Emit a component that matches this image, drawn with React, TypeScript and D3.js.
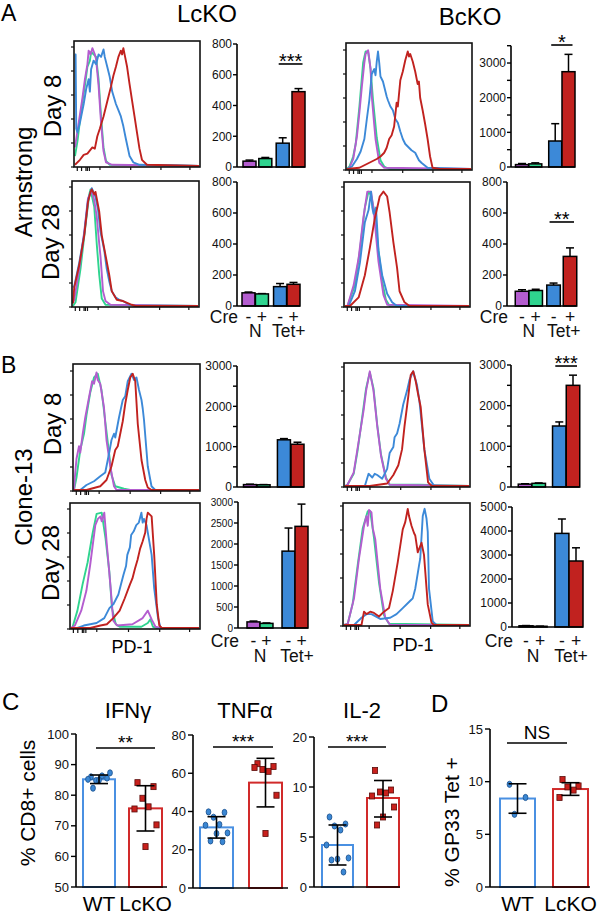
import React from "react";
import * as d3 from "d3";

type Pt = [number, number];
type Curve = Pt[];

const FONT = "Liberation Sans, Arial, Helvetica, sans-serif";
const PURPLE = "#b45dcf";
const GREEN = "#2fd48f";
const BLUE = "#3c89d8";
const RED = "#c1221f";
const CURVE_COLORS = [PURPLE, GREEN, BLUE, RED];
const DRAW_ORDER = [1, 0, 2, 3];

// ---------- Histogram curves: [position along PD-1 axis (0-1), fraction of max] ----------
// curves ordered [purple (N Cre-), green (N Cre+), blue (Tet+ Cre-), red (Tet+ Cre+)]
const histArmLc8: Curve[] = [
  [[0,0.15],[0.03,0.35],[0.06,0.55],[0.08,0.7],[0.1,0.82],[0.11,0.93],[0.125,0.9],[0.14,0.95],[0.16,0.9],[0.17,0.86],[0.19,0.65],[0.21,0.35],[0.23,0.12],[0.25,0.03],[0.3,0.01],[1,0]],
  [[0,0.08],[0.02,0.2],[0.05,0.45],[0.08,0.65],[0.1,0.8],[0.12,0.85],[0.13,0.92],[0.15,0.9],[0.17,0.88],[0.19,0.7],[0.21,0.4],[0.23,0.15],[0.25,0.04],[0.28,0.01],[1,0]],
  [[0,0.9],[0.005,0.9],[0.01,0.3],[0.02,0.27],[0.04,0.35],[0.07,0.5],[0.09,0.62],[0.11,0.7],[0.12,0.6],[0.13,0.78],[0.15,0.85],[0.17,0.82],[0.19,0.9],[0.21,0.88],[0.23,0.94],[0.24,0.88],[0.26,0.8],[0.28,0.72],[0.3,0.6],[0.33,0.5],[0.35,0.45],[0.37,0.4],[0.39,0.32],[0.41,0.22],[0.44,0.08],[0.47,0.03],[0.52,0.01],[1,0]],
  [[0,0.01],[0.04,0.05],[0.07,0.09],[0.1,0.1],[0.14,0.15],[0.16,0.14],[0.18,0.24],[0.2,0.3],[0.23,0.4],[0.26,0.52],[0.29,0.64],[0.31,0.73],[0.33,0.8],[0.35,0.88],[0.37,0.93],[0.38,0.9],[0.39,0.95],[0.4,0.9],[0.42,0.8],[0.44,0.66],[0.46,0.53],[0.48,0.4],[0.5,0.27],[0.52,0.14],[0.54,0.05],[0.58,0.01],[1,0]],
];
const histArmBc8: Curve[] = [
  [[0,0],[0.02,0.01],[0.05,0.08],[0.08,0.26],[0.1,0.45],[0.12,0.66],[0.14,0.85],[0.15,0.92],[0.17,0.95],[0.18,0.88],[0.19,0.8],[0.2,0.58],[0.22,0.35],[0.23,0.24],[0.26,0.05],[0.3,0.01],[1,0]],
  [[0,0],[0.02,0.02],[0.05,0.1],[0.07,0.2],[0.1,0.5],[0.13,0.85],[0.15,0.94],[0.17,0.94],[0.19,0.8],[0.21,0.55],[0.24,0.25],[0.27,0.07],[0.3,0.02],[0.34,0],[1,0]],
  [[0,0],[0.04,0.02],[0.08,0.08],[0.11,0.14],[0.14,0.24],[0.16,0.4],[0.18,0.55],[0.2,0.76],[0.22,0.8],[0.23,0.75],[0.24,0.86],[0.25,0.94],[0.26,0.85],[0.27,0.74],[0.29,0.7],[0.3,0.66],[0.31,0.62],[0.32,0.58],[0.33,0.55],[0.35,0.5],[0.37,0.47],[0.39,0.4],[0.41,0.37],[0.43,0.3],[0.45,0.24],[0.47,0.2],[0.49,0.18],[0.52,0.15],[0.55,0.13],[0.58,0.07],[0.6,0.05],[0.65,0.01],[1,0]],
  [[0,0],[0.1,0.01],[0.16,0.04],[0.2,0.06],[0.24,0.08],[0.27,0.1],[0.3,0.13],[0.32,0.17],[0.34,0.24],[0.36,0.27],[0.38,0.34],[0.4,0.53],[0.41,0.5],[0.43,0.71],[0.45,0.78],[0.47,0.87],[0.49,0.94],[0.5,0.9],[0.51,0.92],[0.53,0.86],[0.55,0.78],[0.57,0.68],[0.58,0.7],[0.59,0.57],[0.61,0.47],[0.63,0.36],[0.65,0.24],[0.67,0.1],[0.69,0.01],[0.75,0],[1,0]],
];
const histArmLc28: Curve[] = [
  [[0,0.03],[0.01,0.05],[0.05,0.3],[0.09,0.6],[0.12,0.87],[0.15,0.93],[0.17,0.85],[0.19,0.72],[0.21,0.5],[0.22,0.4],[0.24,0.12],[0.26,0.04],[0.3,0.01],[1,0]],
  [[0,0],[0.02,0.03],[0.06,0.3],[0.1,0.65],[0.13,0.9],[0.14,0.94],[0.17,0.8],[0.19,0.5],[0.21,0.25],[0.23,0.06],[0.26,0.01],[1,0]],
  [[0,0.15],[0.01,0.16],[0.05,0.35],[0.09,0.58],[0.12,0.85],[0.15,0.95],[0.18,0.88],[0.2,0.78],[0.22,0.6],[0.25,0.45],[0.27,0.3],[0.29,0.2],[0.31,0.12],[0.34,0.07],[0.37,0.05],[0.4,0.04],[0.45,0.01],[0.5,0],[1,0]],
  [[0,0.02],[0.01,0.15],[0.05,0.33],[0.09,0.57],[0.12,0.84],[0.14,0.92],[0.15,0.94],[0.17,0.9],[0.18,0.92],[0.21,0.76],[0.23,0.57],[0.26,0.41],[0.29,0.25],[0.31,0.12],[0.35,0.05],[0.4,0.04],[0.47,0.01],[0.5,0],[1,0]],
];
const histArmBc28: Curve[] = [
  [[0,0],[0.02,0],[0.07,0.17],[0.11,0.39],[0.15,0.73],[0.18,0.93],[0.21,0.93],[0.23,0.79],[0.27,0.36],[0.31,0.09],[0.34,0.01],[1,0]],
  [[0,0],[0.02,0],[0.08,0.17],[0.12,0.45],[0.16,0.8],[0.19,0.93],[0.21,0.9],[0.24,0.75],[0.27,0.45],[0.3,0.2],[0.33,0.05],[0.36,0],[1,0]],
  [[0,0],[0.03,0],[0.08,0.12],[0.12,0.35],[0.16,0.68],[0.19,0.78],[0.21,0.93],[0.22,0.8],[0.23,0.75],[0.25,0.8],[0.27,0.45],[0.3,0.25],[0.34,0.1],[0.38,0.03],[0.42,0],[1,0]],
  [[0,0],[0.04,0],[0.11,0.07],[0.16,0.25],[0.2,0.47],[0.24,0.71],[0.28,0.89],[0.31,0.93],[0.34,0.89],[0.36,0.76],[0.39,0.52],[0.42,0.31],[0.44,0.12],[0.48,0.03],[0.52,0],[1,0]],
];
const histCl13Lc8: Curve[] = [
  [[0,0],[0.01,0.14],[0.02,0.25],[0.04,0.35],[0.05,0.3],[0.07,0.45],[0.09,0.58],[0.12,0.74],[0.145,0.87],[0.16,0.85],[0.18,0.94],[0.19,0.88],[0.21,0.85],[0.24,0.66],[0.26,0.4],[0.29,0.19],[0.32,0.03],[0.34,0],[1,0]],
  [[0,0],[0.02,0.1],[0.05,0.32],[0.08,0.45],[0.1,0.6],[0.13,0.78],[0.16,0.9],[0.19,0.93],[0.22,0.8],[0.25,0.55],[0.28,0.3],[0.3,0.12],[0.33,0.03],[0.4,0.01],[0.45,0],[1,0]],
  [[0,0],[0.05,0],[0.1,0.04],[0.16,0.07],[0.21,0.11],[0.25,0.14],[0.28,0.29],[0.3,0.4],[0.32,0.45],[0.33,0.42],[0.36,0.58],[0.39,0.72],[0.41,0.75],[0.43,0.87],[0.46,0.93],[0.48,0.88],[0.5,0.9],[0.52,0.8],[0.54,0.72],[0.55,0.65],[0.56,0.56],[0.59,0.19],[0.62,0.03],[0.65,0],[1,0]],
  [[0,0],[0.1,0],[0.21,0.03],[0.26,0.08],[0.3,0.19],[0.33,0.32],[0.35,0.35],[0.37,0.45],[0.39,0.55],[0.41,0.69],[0.43,0.8],[0.45,0.9],[0.47,0.93],[0.49,0.87],[0.51,0.53],[0.54,0.24],[0.57,0.08],[0.59,0.02],[0.62,0],[1,0]],
];
const histCl13Bc8: Curve[] = [
  [[0,0],[0.02,0.01],[0.07,0.11],[0.1,0.3],[0.13,0.49],[0.15,0.62],[0.17,0.78],[0.2,0.94],[0.23,0.78],[0.26,0.49],[0.29,0.25],[0.33,0.06],[0.36,0.01],[1,0]],
  [[0,0],[0.02,0.01],[0.07,0.1],[0.1,0.28],[0.13,0.5],[0.17,0.8],[0.2,0.93],[0.23,0.8],[0.26,0.5],[0.29,0.26],[0.33,0.07],[0.36,0.01],[0.6,0.01],[1,0]],
  [[0,0],[0.16,0],[0.19,0.1],[0.22,0.07],[0.24,0.1],[0.26,0.09],[0.3,0.06],[0.34,0.14],[0.36,0.27],[0.39,0.32],[0.4,0.4],[0.42,0.43],[0.44,0.51],[0.47,0.67],[0.5,0.78],[0.52,0.87],[0.55,0.94],[0.58,0.83],[0.6,0.7],[0.64,0.3],[0.68,0.06],[0.72,0],[1,0]],
  [[0,0],[0.2,0],[0.34,0.02],[0.39,0.09],[0.43,0.17],[0.46,0.3],[0.48,0.49],[0.51,0.73],[0.53,0.91],[0.55,0.94],[0.57,0.86],[0.59,0.75],[0.61,0.65],[0.64,0.3],[0.67,0.03],[0.7,0],[1,0]],
];
const histCl13Lc28: Curve[] = [
  [[0,0],[0.03,0.02],[0.08,0.14],[0.12,0.3],[0.15,0.51],[0.19,0.83],[0.21,0.88],[0.23,0.9],[0.24,0.86],[0.26,0.93],[0.28,0.67],[0.31,0.32],[0.33,0.06],[0.36,0.02],[0.48,0.03],[0.56,0.08],[0.6,0.14],[0.63,0.07],[0.66,0.01],[0.7,0],[1,0]],
  [[0,0],[0.01,0],[0.05,0.14],[0.09,0.35],[0.13,0.53],[0.17,0.77],[0.2,0.92],[0.24,0.93],[0.27,0.72],[0.3,0.45],[0.32,0.16],[0.35,0.03],[0.38,0.01],[0.55,0.01],[0.6,0.04],[0.62,0.07],[0.64,0.01],[0.67,0],[1,0]],
  [[0,0],[0.05,0],[0.1,0.02],[0.2,0.04],[0.26,0.08],[0.3,0.16],[0.33,0.19],[0.37,0.27],[0.39,0.35],[0.41,0.43],[0.43,0.5],[0.44,0.59],[0.46,0.65],[0.47,0.75],[0.49,0.78],[0.51,0.83],[0.53,0.85],[0.55,0.93],[0.56,0.85],[0.57,0.88],[0.59,0.83],[0.63,0.59],[0.65,0.32],[0.68,0.08],[0.7,0],[1,0]],
  [[0,0],[0.15,0],[0.23,0.02],[0.28,0.03],[0.33,0.08],[0.38,0.14],[0.42,0.24],[0.46,0.35],[0.48,0.4],[0.5,0.48],[0.52,0.55],[0.54,0.64],[0.56,0.7],[0.58,0.77],[0.59,0.88],[0.6,0.93],[0.63,0.9],[0.65,0.59],[0.67,0.19],[0.69,0.02],[0.71,0],[1,0]],
];
const histCl13Bc28: Curve[] = [
  [[0,0],[0.03,0.01],[0.08,0.22],[0.12,0.55],[0.16,0.82],[0.18,0.9],[0.19,0.82],[0.2,0.95],[0.22,0.93],[0.23,0.8],[0.25,0.71],[0.29,0.3],[0.33,0.06],[0.37,0],[1,0]],
  [[0,0],[0.03,0.01],[0.07,0.18],[0.11,0.5],[0.15,0.8],[0.19,0.94],[0.21,0.94],[0.24,0.72],[0.28,0.35],[0.32,0.08],[0.36,0.01],[1,0]],
  [[0,0],[0.08,0],[0.14,0.06],[0.18,0.09],[0.22,0.09],[0.29,0.05],[0.37,0.06],[0.42,0.09],[0.47,0.14],[0.53,0.2],[0.55,0.22],[0.57,0.3],[0.6,0.49],[0.61,0.55],[0.63,0.9],[0.645,0.96],[0.66,0.88],[0.67,0.77],[0.68,0.3],[0.71,0.03],[0.74,0],[1,0]],
  [[0,0],[0.14,0],[0.16,0.11],[0.18,0.09],[0.21,0.11],[0.24,0.1],[0.28,0.07],[0.32,0.11],[0.36,0.14],[0.39,0.28],[0.43,0.52],[0.47,0.79],[0.49,0.85],[0.51,0.96],[0.52,0.9],[0.54,0.82],[0.56,0.76],[0.57,0.74],[0.59,0.6],[0.62,0.68],[0.64,0.58],[0.67,0.17],[0.7,0.02],[0.72,0],[1,0]],
];

// ---------- PD-1 MFI bars: [N Cre-, N Cre+, Tet+ Cre-, Tet+ Cre+] ----------
const barGroups = ["N Cre-", "N Cre+", "Tet+ Cre-", "Tet+ Cre+"];
const creSigns = ["-", "+", "-", "+"];
const mfiArmLc8 = [38, 55, 155, 490];
const errArmLc8 = [45, 62, 190, 510];
const mfiArmBc8 = [70, 90, 750, 2750];
const errArmBc8 = [100, 120, 1250, 3250];
const mfiArmLc28 = [85, 78, 125, 140];
const errArmLc28 = [90, 80, 145, 152];
const mfiArmBc28 = [95, 100, 135, 320];
const errArmBc28 = [105, 108, 148, 375];
const mfiCl13Lc8 = [60, 55, 1170, 1060];
const errCl13Lc8 = [70, 60, 1200, 1110];
const mfiCl13Bc8 = [70, 90, 1500, 2500];
const errCl13Bc8 = [80, 100, 1600, 2750];
const mfiCl13Lc28 = [145, 110, 1830, 2420];
const errCl13Lc28 = [165, 120, 2380, 2950];
const mfiCl13Bc28 = [50, 30, 3900, 2750];
const errCl13Bc28 = [60, 35, 4500, 3300];

// ---------- Panel C / D ----------
const groupLabels = ["WT", "LcKO"];
const ifnWT = [86.0, 85.6, 84.8, 86.3, 85.2, 87.3, 84.9, 82.3];
const ifnKO = [84.1, 82.8, 79.0, 76.2, 75.5, 70.3, 63.2];
const ifnMean = [85.2, 75.7];
const ifnSD = [1.4, 7.4];
const tnfWT = [39.8, 39.5, 37.0, 33.2, 32.8, 28.8, 28.5, 24.6, 24.2];
const tnfKO = [65.0, 63.5, 62.0, 61.0, 63.0, 48.5, 28.5];
const tnfMean = [31.7, 55.1];
const tnfSD = [5.6, 12.7];
const il2WT = [7.0, 6.3, 6.1, 5.7, 4.2, 2.9, 2.8, 2.7, 1.5];
const il2KO = [13.3, 9.7, 9.5, 9.4, 9.1, 8.0, 7.0, 6.2];
const il2Mean = [4.2, 8.9];
const il2Lo = [2.2, 7.0];
const il2Hi = [6.2, 11.3];
const gpWT = [9.75, 8.5, 6.9];
const gpKO = [10.2, 9.6, 9.5, 9.2, 8.5];
const gpMean = [8.4, 9.3];
const gpSD = [1.4, 0.6];
const ifnTicks = [50, 60, 70, 80, 90, 100];
const tnfTicks = [0, 20, 40, 60, 80];
const il2Ticks = [0, 5, 10, 20];
const gpTicks = [0, 5, 10, 15];

// ---------- components ----------
function Histo({ box, curves }: { box: number[]; curves: Curve[] }) {
  const [x0, y0, x1, y1] = box;
  const xs = d3.scaleLinear().domain([0, 1]).range([x0 + 1, x1 - 1]);
  const ys = d3.scaleLinear().domain([0, 1]).range([y1 - 1, y0 + 1]);
  const line = d3.line<Pt>().x((d) => xs(d[0])).y((d) => ys(d[1]));
  const leftTicks = d3.range(0, 6).map((i) => y1 - i * 24);
  const botTicks = [0.026, 0.06, 0.095, 0.106, 0.122, 0.206, 0.45, 0.69, 0.92];
  return (
    <g>
      {DRAW_ORDER.map((i) => (
        <path key={i} d={line(curves[i]) || ""} fill="none" stroke={CURVE_COLORS[i]} strokeWidth={1.9} strokeLinejoin="round" />
      ))}
      <rect x={x0} y={y0} width={x1 - x0} height={y1 - y0} fill="none" stroke="#111" strokeWidth={1.6} />
      {leftTicks.map((t, i) => (
        <line key={"l" + i} x1={x0 - 3} x2={x0} y1={t} y2={t} stroke="#111" strokeWidth={1.2} />
      ))}
      {botTicks.map((t, i) => (
        <line key={"b" + i} x1={x0 + t * (x1 - x0)} x2={x0 + t * (x1 - x0)} y1={y1} y2={y1 + (i < 5 ? 4 : 3)} stroke="#111" strokeWidth={1.2} />
      ))}
    </g>
  );
}

type BarLayout = {
  ax: number; y0: number; yTop: number; max: number; step: number; minor: number;
  c0: number; c3: number; slots: number[]; bw: number; fs: number;
  sig?: { text: string; v: number };
  cre?: { y: number; y2: number };
};

function BarPanel({ L, vals, errs }: { L: BarLayout; vals: number[]; errs: number[] }) {
  const y = d3.scaleLinear().domain([0, L.max]).range([L.y0, L.yTop]);
  const x = d3.scaleLinear().domain([0, L.slots[3]]).range([L.c0, L.c3]);
  const cx = barGroups.map((_, i) => x(L.slots[i]));
  const labeled = d3.range(0, L.max + 1e-6, L.step);
  const minor = d3.range(0, L.max + 1e-6, L.minor);
  const right = cx[3] + L.bw / 2;
  return (
    <g fontFamily={FONT}>
      {vals.map((v, i) => (
        <g key={i}>
          <line x1={cx[i]} x2={cx[i]} y1={y(v)} y2={y(errs[i])} stroke="#000" strokeWidth={1.5} />
          <line x1={cx[i] - 4} x2={cx[i] + 4} y1={y(errs[i])} y2={y(errs[i])} stroke="#000" strokeWidth={1.5} />
          <rect x={cx[i] - L.bw / 2} y={y(v)} width={L.bw} height={L.y0 - y(v)} fill={CURVE_COLORS[i]} stroke="#000" strokeWidth={1.5} />
        </g>
      ))}
      <line x1={L.ax} x2={L.ax} y1={L.y0} y2={y(L.max)} stroke="#000" strokeWidth={1.6} />
      <line x1={L.ax} x2={right} y1={L.y0} y2={L.y0} stroke="#000" strokeWidth={1.6} />
      {minor.map((t) => (
        <line key={"m" + t} x1={L.ax - 4} x2={L.ax} y1={y(t)} y2={y(t)} stroke="#000" strokeWidth={1.4} />
      ))}
      {labeled.map((t) => (
        <text key={"t" + t} x={L.ax - 5} y={y(t) + L.fs * 0.36} fontSize={L.fs} textAnchor="end" fill="#111">{t}</text>
      ))}
      {L.sig && (
        <g>
          <line x1={cx[2] - 4} x2={cx[3] + 4} y1={y(L.sig.v)} y2={y(L.sig.v)} stroke="#000" strokeWidth={1.6} />
          <text x={(cx[2] + cx[3]) / 2} y={y(L.sig.v) + 4} fontSize={20} textAnchor="middle">{L.sig.text}</text>
        </g>
      )}
      {L.cre && (
        <g fontSize={17.5} fill="#111">
          <text x={L.ax + 1} y={L.cre.y} textAnchor="end">Cre</text>
          {creSigns.map((s, i) => (
            <text key={i} x={cx[i]} y={L.cre!.y} textAnchor="middle">{s}</text>
          ))}
          <text x={(cx[0] + cx[1]) / 2} y={L.cre.y2} textAnchor="middle">N</text>
          <text x={(cx[2] + cx[3]) / 2 + 2} y={L.cre.y2} textAnchor="middle">Tet+</text>
        </g>
      )}
    </g>
  );
}

type DotLayout = {
  ax: number; end: number; domain: number[]; range: number[]; ticks: number[];
  bars: number[][]; title: string; titleX: number; sig: string; sigY: number; sigX: number[];
  labels?: boolean;
};

const JITTER = [-8, 8, -3, 3, -11, 11, 0, -6, 6];

function DotPanel({ L, wt, ko, mean, lo, hi }: { L: DotLayout; wt: number[]; ko: number[]; mean: number[]; lo: number[]; hi: number[] }) {
  const y = d3.scaleLinear().domain(L.domain).range(L.range);
  const cx = L.bars.map((b) => (b[0] + b[1]) / 2);
  const y0 = L.range[0];
  const cols = ["#4a90e2", "#d12a2a"];
  const ns = L.sig === "NS";
  return (
    <g fontFamily={FONT}>
      {mean.map((m, i) => (
        <rect key={"b" + i} x={L.bars[i][0]} y={y(m)} width={L.bars[i][1] - L.bars[i][0]} height={y0 - y(m)} fill="#fff" stroke={cols[i]} strokeWidth={2} />
      ))}
      {wt.map((v, i) => (
        <ellipse key={"w" + i} cx={cx[0] + JITTER[i % JITTER.length]} cy={y(v)} rx={2.4} ry={3.1} fill="#3a87d4" stroke="#1b4f8c" strokeWidth={0.8} />
      ))}
      {ko.map((v, i) => (
        <rect key={"k" + i} x={cx[1] + JITTER[i % JITTER.length] - 2.6} y={y(v) - 3} width={5.2} height={6} fill="#c8201c" stroke="#5a0d0b" strokeWidth={0.8} />
      ))}
      {mean.map((m, i) => (
        <g key={"e" + i} stroke="#000" strokeWidth={1.6}>
          <line x1={cx[i]} x2={cx[i]} y1={y(lo[i])} y2={y(hi[i])} />
          <line x1={cx[i] - 9} x2={cx[i] + 9} y1={y(lo[i])} y2={y(lo[i])} />
          <line x1={cx[i] - 9} x2={cx[i] + 9} y1={y(hi[i])} y2={y(hi[i])} />
        </g>
      ))}
      <line x1={L.ax} x2={L.ax} y1={y0} y2={L.range[L.range.length - 1]} stroke="#000" strokeWidth={1.6} />
      <line x1={L.ax} x2={L.end} y1={y0} y2={y0} stroke="#000" strokeWidth={1.6} />
      {L.ticks.map((t) => (
        <g key={"t" + t}>
          <line x1={L.ax - 5} x2={L.ax} y1={y(t)} y2={y(t)} stroke="#000" strokeWidth={1.4} />
          <text x={L.ax - 7} y={y(t) + 4.6} fontSize={13} textAnchor="end" fill="#111">{t}</text>
        </g>
      ))}
      {L.title && <text x={L.titleX} y={718} fontSize={22} textAnchor="middle">{L.title}</text>}
      <line x1={L.sigX[0]} x2={L.sigX[1]} y1={L.sigY} y2={L.sigY} stroke="#000" strokeWidth={1.6} />
      <text x={(L.sigX[0] + L.sigX[1]) / 2} y={ns ? L.sigY - 4 : L.sigY + 1} fontSize={ns ? 19 : 19} textAnchor="middle">{L.sig}</text>
      {L.labels && groupLabels.map((g, i) => (
        <text key={g} x={cx[i]} y={911} fontSize={21} textAnchor="middle">{g}</text>
      ))}
    </g>
  );
}

function RotText({ x, y, text, fs }: { x: number; y: number; text: string; fs: number }) {
  return (
    <text transform={`translate(${x},${y}) rotate(-90)`} fontSize={fs} textAnchor="middle" fontFamily={FONT}>{text}</text>
  );
}

export default function App() {
  const LA8: BarLayout = { ax: 237, y0: 167, yTop: 44, max: 800, step: 200, minor: 200, c0: 249.5, c3: 298.5, slots: [0, 1, 2.1, 3.1], bw: 13, fs: 12, sig: { text: "***", v: 670 } };
  const BA8: BarLayout = { ax: 511, y0: 167, yTop: 45.7, max: 3500, step: 1000, minor: 500, c0: 522, c3: 568.5, slots: [0, 1, 2.5, 3.5], bw: 13, fs: 12, sig: { text: "*", v: 3520 } };
  const LA28: BarLayout = { ax: 237, y0: 306, yTop: 182, max: 800, step: 200, minor: 200, c0: 248.5, c3: 293.5, slots: [0, 1, 2.35, 3.35], bw: 13, fs: 12, cre: { y: 323, y2: 337 } };
  const BA28: BarLayout = { ax: 507, y0: 306, yTop: 182, max: 800, step: 200, minor: 200, c0: 522, c3: 570, slots: [0, 1, 2.3, 3.5], bw: 13.5, fs: 12, sig: { text: "**", v: 542 }, cre: { y: 323, y2: 337 } };
  const LB8: BarLayout = { ax: 237, y0: 487, yTop: 366, max: 3000, step: 1000, minor: 500, c0: 250, c3: 297.5, slots: [0, 1, 2.5, 3.5], bw: 13, fs: 12 };
  const BB8: BarLayout = { ax: 511, y0: 487, yTop: 365, max: 3000, step: 1000, minor: 500, c0: 525, c3: 573, slots: [0, 1, 2.5, 3.5], bw: 13.5, fs: 12, sig: { text: "***", v: 2975 } };
  const LB28: BarLayout = { ax: 238, y0: 628, yTop: 502, max: 3000, step: 500, minor: 500, c0: 253.5, c3: 301.5, slots: [0, 1, 2.7, 3.7], bw: 13, fs: 10, cre: { y: 647, y2: 662 } };
  const BB28: BarLayout = { ax: 512, y0: 627, yTop: 507, max: 5000, step: 1000, minor: 1000, c0: 526, c3: 576, slots: [0, 1, 2.55, 3.55], bw: 14, fs: 12, cre: { y: 647, y2: 662 } };

  const IFN: DotLayout = { ax: 76, end: 167, domain: [50, 100], range: [887, 734], ticks: ifnTicks, bars: [[83, 115], [129, 162]], title: "IFNγ", titleX: 128, sig: "**", sigY: 748, sigX: [96, 155], labels: true };
  const TNF: DotLayout = { ax: 193, end: 288, domain: [0, 80], range: [888, 735], ticks: tnfTicks, bars: [[200, 233], [249, 282]], title: "TNFα", titleX: 245, sig: "***", sigY: 747, sigX: [213, 273] };
  const IL2: DotLayout = { ax: 314, end: 400, domain: [0, 10, 20], range: [887, 787, 737], ticks: il2Ticks, bars: [[322, 353], [367, 399]], title: "IL-2", titleX: 362, sig: "***", sigY: 747, sigX: [328, 386] };
  const GP: DotLayout = { ax: 490, end: 590, domain: [0, 15], range: [887, 729], ticks: gpTicks, bars: [[500, 535], [553, 588]], title: "", titleX: 0, sig: "NS", sigY: 743, sigX: [507, 567], labels: true };

  const sd = (m: number[], s: number[], sign: number) => m.map((v, i) => v + sign * s[i]);

  return (
    <svg width={600} height={914} style={{ position: "absolute", left: 0, top: 0, background: "#fff" }} fontFamily={FONT}>
      <rect x={0} y={0} width={600} height={914} fill="#fff" />
      <text x={1} y={21} fontSize={23}>A</text>
      <text x={1} y={373} fontSize={23}>B</text>
      <text x={2} y={710} fontSize={24}>C</text>
      <text x={431} y={712} fontSize={24}>D</text>
      <text x={207} y={22} fontSize={24} textAnchor="middle">LcKO</text>
      <text x={470} y={25} fontSize={24} textAnchor="middle">BcKO</text>

      <RotText x={32} y={182} text="Armstrong" fs={24} />
      <RotText x={61} y={106} text="Day 8" fs={24} />
      <RotText x={59} y={242} text="Day 28" fs={24} />
      <RotText x={32} y={497} text="Clone-13" fs={24} />
      <RotText x={61} y={424} text="Day 8" fs={24} />
      <RotText x={59} y={563} text="Day 28" fs={24} />

      <Histo box={[74, 41, 200, 167]} curves={histArmLc8} />
      <Histo box={[346, 43, 472, 170]} curves={histArmBc8} />
      <Histo box={[72, 181, 199, 307]} curves={histArmLc28} />
      <Histo box={[344, 182, 470, 307]} curves={histArmBc28} />
      <Histo box={[73, 364, 200, 491]} curves={histCl13Lc8} />
      <Histo box={[344, 363, 470, 487]} curves={histCl13Bc8} />
      <Histo box={[70, 503, 200, 629]} curves={histCl13Lc28} />
      <Histo box={[343, 503, 470, 626]} curves={histCl13Bc28} />

      <BarPanel L={LA8} vals={mfiArmLc8} errs={errArmLc8} />
      <BarPanel L={BA8} vals={mfiArmBc8} errs={errArmBc8} />
      <BarPanel L={LA28} vals={mfiArmLc28} errs={errArmLc28} />
      <BarPanel L={BA28} vals={mfiArmBc28} errs={errArmBc28} />
      <BarPanel L={LB8} vals={mfiCl13Lc8} errs={errCl13Lc8} />
      <BarPanel L={BB8} vals={mfiCl13Bc8} errs={errCl13Bc8} />
      <BarPanel L={LB28} vals={mfiCl13Lc28} errs={errCl13Lc28} />
      <BarPanel L={BB28} vals={mfiCl13Bc28} errs={errCl13Bc28} />

      <text x={132} y={653} fontSize={18} textAnchor="middle">PD-1</text>
      <text x={413} y={651} fontSize={18} textAnchor="middle">PD-1</text>

      <RotText x={35} y={803} text="% CD8+ cells" fs={21} />
      <RotText x={459} y={822} text="% GP33 Tet +" fs={21} />
      <DotPanel L={IFN} wt={ifnWT} ko={ifnKO} mean={ifnMean} lo={sd(ifnMean, ifnSD, -1)} hi={sd(ifnMean, ifnSD, 1)} />
      <DotPanel L={TNF} wt={tnfWT} ko={tnfKO} mean={tnfMean} lo={sd(tnfMean, tnfSD, -1)} hi={sd(tnfMean, tnfSD, 1)} />
      <DotPanel L={IL2} wt={il2WT} ko={il2KO} mean={il2Mean} lo={il2Lo} hi={il2Hi} />
      <DotPanel L={GP} wt={gpWT} ko={gpKO} mean={gpMean} lo={sd(gpMean, gpSD, -1)} hi={sd(gpMean, gpSD, 1)} />
    </svg>
  );
}
